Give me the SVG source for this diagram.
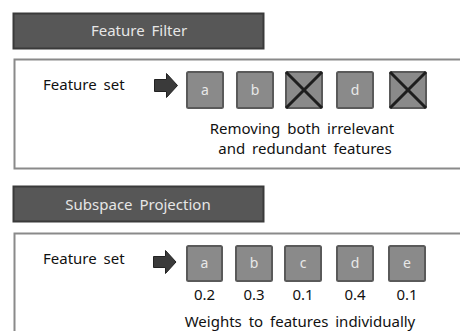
<svg xmlns="http://www.w3.org/2000/svg" width="460" height="331" viewBox="0 0 460 331">
<defs>
<style>
.hdr{fill:#575757;stroke:#3a3a3a;stroke-width:2}
.hdrt{fill:#e6e6e6;font-family:"Noto Sans","DejaVu Sans",sans-serif;font-size:15px;text-anchor:middle;word-spacing:3px}
.panel{fill:#fff;stroke:#8a8a8a;stroke-width:2}
.lbl{fill:#111;font-family:"Noto Sans","DejaVu Sans",sans-serif;font-size:15px;word-spacing:3px}
.ctr{text-anchor:middle}
.feat{fill:#8a8a8a;stroke:#5a5a5a;stroke-width:2}
.ft{fill:#e8e8e8;font-family:"Noto Sans","DejaVu Sans",sans-serif;font-size:14px;text-anchor:middle}
.x{stroke:#1e1e1e;stroke-width:3}
.arrow{fill:#3a3a3a;stroke:#222;stroke-width:1}
</style>
</defs>
<g id="header-filter">
<rect class="hdr" x="13.5" y="13.5" width="250" height="35"/>
<text class="hdrt" x="139" y="36">Feature Filter</text>
</g>
<g id="panel-filter">
<path class="panel" d="M461 59.5 H14.5 V168.5 H461"/>
<text class="lbl" x="43" y="90">Feature set</text>
</g>
<g id="header-projection">
<rect class="hdr" x="13.5" y="186.5" width="250" height="35"/>
<text class="hdrt" x="138" y="210">Subspace Projection</text>
</g>
<g id="panel-projection">
<path class="panel" d="M461 233.5 H14.5 V335"/>
<text class="lbl" x="43" y="264">Feature set</text>
</g>
<g id="connectors">
<path class="arrow" d="M154.5 79.5 H166.5 V73.5 L177.5 85.5 L166.5 97.5 V91.5 H154.5 Z"/>
<path class="arrow" d="M153.5 256.5 H165.5 V250.5 L176 262 L165.5 273.5 V267.5 H153.5 Z"/>
</g>
<g id="filter-a"><rect class="feat" x="187" y="72" width="36" height="36" rx="1.5"/><text class="ft" x="205" y="95">a</text></g>
<g id="filter-b"><rect class="feat" x="237" y="72" width="36" height="36" rx="1.5"/><text class="ft" x="255" y="95">b</text></g>
<g id="filter-c"><rect class="feat" x="286" y="72" width="36" height="36" rx="1.5"/><line class="x" x1="286" y1="72" x2="322" y2="108"/><line class="x" x1="322" y1="72" x2="286" y2="108"/></g>
<g id="filter-d"><rect class="feat" x="337" y="72" width="36" height="36" rx="1.5"/><text class="ft" x="355" y="95">d</text></g>
<g id="filter-e"><rect class="feat" x="390" y="72" width="36" height="36" rx="1.5"/><line class="x" x1="390" y1="72" x2="426" y2="108"/><line class="x" x1="426" y1="72" x2="390" y2="108"/></g>
<g id="filter-caption">
<text class="lbl ctr" x="302" y="134">Removing both irrelevant</text>
<text class="lbl ctr" x="305" y="154">and redundant features</text>
</g>
<g id="proj-a"><rect class="feat" x="187" y="246" width="35" height="35" rx="1.5"/><text class="ft" x="204.5" y="268">a</text><text class="lbl ctr" x="204.5" y="300">0.2</text></g>
<g id="proj-b"><rect class="feat" x="236" y="246" width="36" height="35" rx="1.5"/><text class="ft" x="254" y="268">b</text><text class="lbl ctr" x="254" y="300">0.3</text></g>
<g id="proj-c"><rect class="feat" x="285" y="246" width="36" height="35" rx="1.5"/><text class="ft" x="303" y="268">c</text><text class="lbl ctr" x="303" y="300">0.1</text></g>
<g id="proj-d"><rect class="feat" x="337" y="246" width="36" height="35" rx="1.5"/><text class="ft" x="355" y="268">d</text><text class="lbl ctr" x="355" y="300">0.4</text></g>
<g id="proj-e"><rect class="feat" x="389" y="246" width="36" height="35" rx="1.5"/><text class="ft" x="407" y="268">e</text><text class="lbl ctr" x="407" y="300">0.1</text></g>
<g id="proj-caption">
<text class="lbl ctr" x="300" y="327">Weights to features individually</text>
</g>
</svg>
